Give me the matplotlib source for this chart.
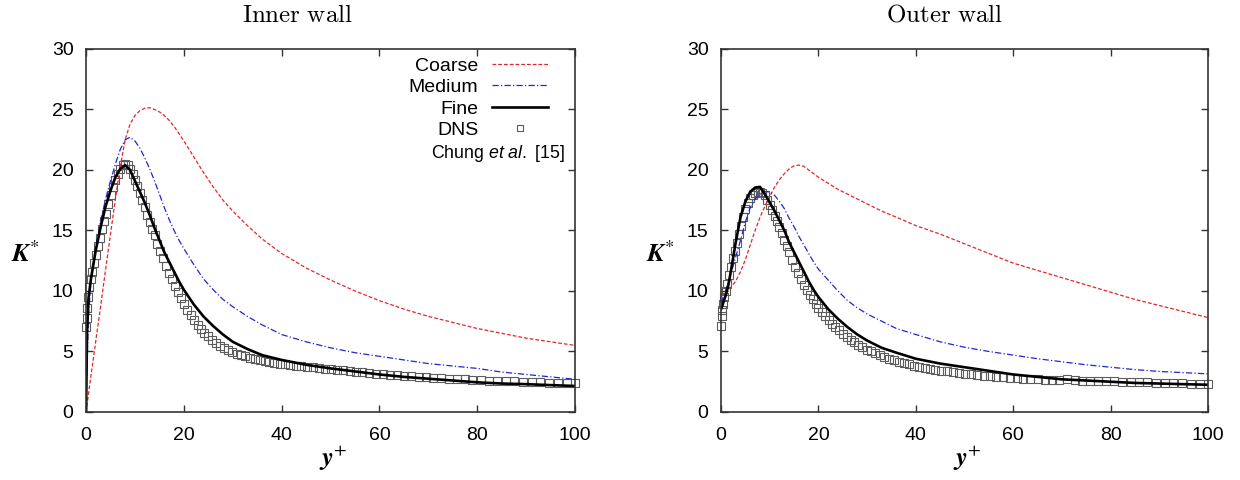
import matplotlib
matplotlib.use("Agg")
import matplotlib.pyplot as plt
from matplotlib import font_manager

yp_model = [0, 0.2, 0.5, 1, 1.5, 2,
            3, 4, 5, 6, 7, 8, 9, 10, 11, 12, 13, 14, 15, 16, 17, 18, 19, 20,
            22, 24, 26, 28, 30, 33, 36, 40, 45, 50, 55, 60, 65, 70, 75, 80, 85, 90, 95, 100]

# Inner wall
inner_coarse = [0, 0.6, 1.5, 3.0, 4.4, 5.9,
                8.8, 11.8, 14.7, 17.6, 20.3, 22.5, 23.8, 24.5, 24.9, 25.1, 25.15, 25.0, 24.8, 24.5, 24.1, 23.6, 23.0, 22.4,
                21.1, 19.8, 18.6, 17.5, 16.6, 15.4, 14.3, 13.1, 11.9, 10.9, 10.0, 9.2, 8.5, 7.9, 7.4, 6.9, 6.5, 6.1, 5.8, 5.5]
inner_medium = [0, 4.0, 8.0, 10.8, 12.4, 13.7,
                15.8, 17.6, 19.1, 20.5, 21.7, 22.5, 22.7, 22.4, 21.8, 21.0, 20.1, 19.1, 18.0, 16.9, 15.9, 15.0, 14.2, 13.5,
                12.2, 11.0, 10.1, 9.3, 8.7, 7.9, 7.2, 6.4, 5.8, 5.3, 4.9, 4.6, 4.3, 4.0, 3.8, 3.6, 3.3, 3.1, 2.9, 2.7]
inner_fine = [0, 6.5, 9.4, 11.0, 12.2, 13.4,
              15.3, 17.0, 18.3, 19.4, 20.1, 20.4, 20.0, 19.1, 18.2, 17.3, 16.3, 15.2, 14.2, 13.2, 12.4, 11.6, 10.8, 10.1,
              8.9, 7.9, 7.1, 6.4, 5.8, 5.2, 4.7, 4.3, 3.9, 3.6, 3.35, 3.1, 2.9, 2.75, 2.6, 2.45, 2.35, 2.3, 2.22, 2.15]

# Outer wall
outer_coarse = [9.5, 9.6, 9.7, 9.9, 10.1, 10.3,
                10.8, 11.6, 12.6, 13.8, 15.0, 16.1, 17.0, 17.8, 18.6, 19.2, 19.7, 20.1, 20.35, 20.4, 20.3, 20.0, 19.7, 19.4,
                18.9, 18.4, 18.0, 17.6, 17.2, 16.6, 16.1, 15.4, 14.7, 13.9, 13.1, 12.3, 11.7, 11.1, 10.5, 9.9, 9.3, 8.8, 8.3, 7.8]
outer_medium = [9.0, 9.2, 9.6, 10.1, 10.7, 11.4,
                12.8, 14.2, 15.7, 16.9, 17.6, 18.0, 18.2, 18.2, 17.9, 17.4, 16.8, 16.0, 15.3, 14.5, 13.8, 13.1, 12.4, 11.8,
                10.9, 10.0, 9.2, 8.6, 8.1, 7.5, 6.9, 6.4, 5.8, 5.35, 5.0, 4.7, 4.4, 4.15, 3.9, 3.7, 3.5, 3.35, 3.25, 3.15]
outer_fine = [8.5, 8.7, 9.1, 9.7, 10.5, 11.6,
              14.0, 16.1, 17.4, 18.2, 18.55, 18.6, 18.0, 17.3, 16.6, 15.8, 15.0, 14.0, 13.2, 12.4, 11.6, 10.8, 10.1, 9.5,
              8.5, 7.7, 7.0, 6.4, 5.9, 5.3, 4.9, 4.4, 4.0, 3.7, 3.4, 3.1, 2.9, 2.7, 2.6, 2.5, 2.4, 2.35, 2.3, 2.25]

# DNS (Chung et al.) stations
yp_dns = [0, 0.1, 0.25, 0.45, 0.7, 1.0, 1.3, 1.65, 2.0, 2.4,
          2.8, 3.2, 3.6, 4.0, 4.5, 5.0, 5.5, 6.0, 6.5, 7.0,
          7.5, 8.0, 8.5, 9.0, 9.5, 10.0, 10.5, 11.0, 11.5, 12.0,
          12.5, 13.0, 13.5, 14.0, 14.6, 15.2, 15.8, 16.4, 17.0, 17.6,
          18.2, 18.8, 19.4, 20.0, 20.7, 21.4, 22.1, 22.8, 23.5, 24.2,
          25.0, 25.8, 26.6, 27.4, 28.2, 29.0, 29.9, 30.8, 31.7, 32.6,
          33.5, 34.5, 35.5, 36.5, 37.5, 38.5, 39.6, 40.7, 41.8, 42.9,
          44.0, 45.2, 46.4, 47.6, 48.8, 50.0, 51.3, 52.6, 53.9, 55.2,
          56.5, 57.9, 59.3, 60.7, 62.1, 63.5, 65.0, 66.5, 68.0, 69.5,
          71.0, 72.6, 74.2, 75.8, 77.4, 79.0, 80.7, 82.4, 84.1, 85.8,
          87.5, 89.3, 91.1, 92.9, 94.7, 96.5, 98.3, 100.0]
inner_dns = [7.0, 7.8, 8.6, 9.5, 10.3, 11.0, 11.6, 12.3, 13.0, 13.7,
             14.4, 15.1, 15.8, 16.4, 17.2, 17.9, 18.6, 19.2, 19.7, 20.1,
             20.4, 20.5, 20.4, 20.1, 19.7, 19.2, 18.7, 18.1, 17.5, 16.9,
             16.3, 15.7, 15.1, 14.6, 13.9, 13.3, 12.7, 12.1, 11.5, 11.0,
             10.4, 9.9, 9.4, 8.9, 8.4, 8.0, 7.6, 7.2, 6.85, 6.55,
             6.25, 5.95, 5.7, 5.45, 5.25, 5.1, 4.95, 4.8, 4.7, 4.6,
             4.5, 4.4, 4.3, 4.22, 4.15, 4.08, 4.0, 3.94, 3.88, 3.83,
             3.78, 3.73, 3.68, 3.63, 3.58, 3.53, 3.48, 3.43, 3.38, 3.33,
             3.28, 3.23, 3.18, 3.12, 3.07, 3.02, 2.98, 2.94, 2.9, 2.86,
             2.82, 2.78, 2.75, 2.72, 2.69, 2.66, 2.63, 2.6, 2.57, 2.55,
             2.52, 2.5, 2.47, 2.45, 2.43, 2.41, 2.39, 2.38]
outer_dns = [7.1, 7.9, 8.4, 8.9, 9.5, 10.0, 10.6, 11.3, 12.0, 12.7,
             13.3, 14.0, 14.7, 15.4, 16.1, 16.8, 17.3, 17.7, 17.9, 18.1,
             18.2, 18.2, 18.1, 17.9, 17.5, 17.1, 16.7, 16.2, 15.8, 15.3,
             14.8, 14.2, 13.7, 13.2, 12.6, 12.0, 11.5, 11.0, 10.5, 10.1,
             9.7, 9.3, 8.95, 8.6, 8.25, 7.9, 7.6, 7.3, 7.0, 6.75,
             6.45, 6.2, 5.95, 5.75, 5.55, 5.35, 5.15, 5.0, 4.85, 4.7,
             4.55, 4.4, 4.28, 4.15, 4.04, 3.94, 3.83, 3.73, 3.64, 3.56,
             3.48, 3.41, 3.35, 3.29, 3.23, 3.17, 3.11, 3.06, 3.01, 2.96,
             2.91, 2.86, 2.82, 2.78, 2.75, 2.72, 2.7, 2.67, 2.65, 2.63,
             2.7, 2.62, 2.6, 2.58, 2.56, 2.54, 2.52, 2.5, 2.48, 2.47,
             2.45, 2.43, 2.41, 2.39, 2.37, 2.35, 2.34, 2.33]

x_ticks = [0, 20, 40, 60, 80, 100]
y_ticks = [0, 5, 10, 15, 20, 25, 30]

plt.rcParams["font.family"] = ["Liberation Sans", "DejaVu Sans"]
plt.rcParams["mathtext.fontset"] = "custom"
plt.rcParams["mathtext.rm"] = "Liberation Sans"
plt.rcParams["mathtext.it"] = "Liberation Sans:italic"

installed = {f.name for f in font_manager.fontManager.ttflist}
narrow = "Liberation Sans Narrow" if "Liberation Sans Narrow" in installed else None

AX_COL = "#333333"
RED = "#e3262b"
BLUE = "#2424d0"


def draw_panel(ax, coarse, medium, fine, dns, with_legend):
    ax.plot(yp_model, coarse, color=RED, lw=0.9, dashes=(3, 1.6), label="Coarse")
    ax.plot(yp_model, medium, color=BLUE, lw=0.9, dashes=(5, 1.8, 1, 1.8), label="Medium")
    ax.plot(yp_model, fine, color="black", lw=1.9, label="Fine")
    ax.plot(yp_dns, dns, ls="none", marker="s", ms=5.3, mfc="none", mec="#5c5c5c",
            mew=0.8, label="DNS", clip_on=False, zorder=1)

    ax.set_xlim(0, 100)
    ax.set_ylim(0, 30)
    ax.set_xticks(x_ticks)
    ax.set_yticks(y_ticks)
    ax.tick_params(direction="in", top=True, right=True, length=5, width=1,
                   color=AX_COL, labelsize=14)
    ax.tick_params(axis="x", pad=11)
    ax.tick_params(axis="y", pad=9)
    for sp in ax.spines.values():
        sp.set_color(AX_COL)
        sp.set_linewidth(1.2)

    ax.set_xlabel(r"$\mathbfit{y}^{+}$", fontsize=19, math_fontfamily="stix", va="center")
    ax.xaxis.set_label_coords(0.505, -0.128)
    ax.set_ylabel(r"$\mathbfit{K}^{*}$", fontsize=19, math_fontfamily="stix",
                  rotation=0, va="center", ha="center")
    ax.yaxis.set_label_coords(-0.125, 0.435)

    if with_legend:
        ax.legend(loc="upper right", bbox_to_anchor=(0.945, 0.978), frameon=False,
                  markerfirst=False, fontsize=14, handlelength=2.9, handletextpad=0.7,
                  labelspacing=0.2, borderpad=0, borderaxespad=0, numpoints=1,
                  markerscale=0.7)
        if narrow:
            ax.text(0.98, 0.713, r"Chung $et\ al.$ [15]", transform=ax.transAxes,
                    ha="right", va="center", fontsize=14, family=narrow)
        else:
            ax.text(0.98, 0.713, r"Chung $et\ al.$ [15]", transform=ax.transAxes,
                    ha="right", va="center", fontsize=12.8)


fig = plt.figure(figsize=(12.4, 4.8), dpi=100)
ax1 = fig.add_axes([0.0694, 0.1417, 0.3944, 0.7563])
ax2 = fig.add_axes([0.5815, 0.1417, 0.3927, 0.7563])

draw_panel(ax1, inner_coarse, inner_medium, inner_fine, inner_dns, True)
draw_panel(ax2, outer_coarse, outer_medium, outer_fine, outer_dns, False)

fig.text(297 / 1240, 1 - 22 / 480, r"$\mathrm{Inner\ wall}$", ha="center", va="baseline",
         fontsize=18, math_fontfamily="cm")
fig.text(945 / 1240, 1 - 22 / 480, r"$\mathrm{Outer\ wall}$", ha="center", va="baseline",
         fontsize=18, math_fontfamily="cm")

fig.savefig("out.png", dpi=100, facecolor="white")
